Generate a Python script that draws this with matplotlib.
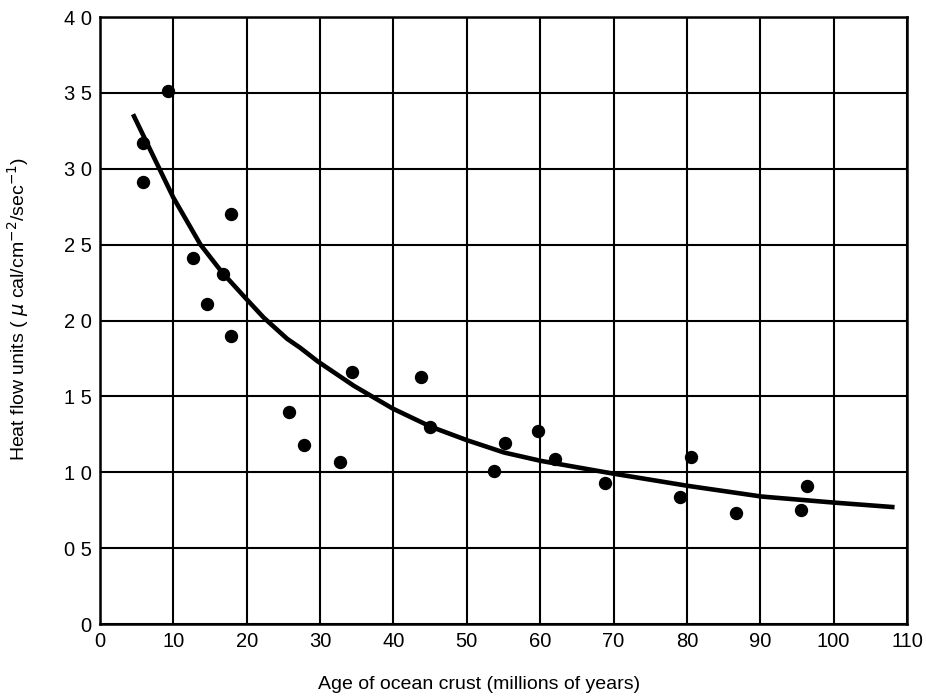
import matplotlib
matplotlib.use("Agg")
import matplotlib.pyplot as plt

plt.rcParams['font.family'] = ['Liberation Sans', 'DejaVu Sans']

# measured heat flow points (age in My, heat flow units)
age = [5.9, 5.9, 9.2, 12.7, 14.6, 16.8, 17.8, 17.9, 25.8, 27.8, 32.7, 34.4,
       43.8, 45.0, 53.7, 55.2, 59.7, 62.0, 68.9, 79.0, 80.5, 86.7, 95.6, 96.4]
flow = [3.17, 2.91, 3.51, 2.41, 2.11, 2.31, 2.70, 1.90, 1.40, 1.18, 1.07, 1.66,
        1.63, 1.30, 1.01, 1.19, 1.27, 1.09, 0.93, 0.84, 1.10, 0.73, 0.75, 0.91]

# fitted curve
curve_x = [4.5, 7.3, 10.0, 13.7, 16.6, 19.8, 22.3, 25.5, 27.3, 29.7, 34.6, 39.9,
           45.1, 50.1, 55.1, 60.1, 70.1, 80.2, 90.2, 100.1, 108.3]
curve_y = [3.36, 3.08, 2.81, 2.50, 2.32, 2.15, 2.02, 1.88, 1.82, 1.73, 1.57, 1.42,
           1.30, 1.21, 1.13, 1.075, 0.99, 0.91, 0.84, 0.80, 0.77]

xticks = list(range(0, 111, 10))
yticks = [0, 0.5, 1.0, 1.5, 2.0, 2.5, 3.0, 3.5, 4.0]
ylabels = ['0', '0 5', '1 0', '1 5', '2 0', '2 5', '3 0', '3 5', '4 0']

fig = plt.figure(figsize=(9.26, 6.98), dpi=100)
ax = fig.add_axes([0.108, 0.106, 0.8715, 0.8695])

ax.plot(curve_x, curve_y, color='black', lw=3.3, solid_capstyle='butt',
        solid_joinstyle='round', zorder=3)
ax.plot(age, flow, 'o', color='black', markersize=8.6, zorder=4)

ax.set_xlim(0, 110)
ax.set_ylim(0, 4.0)
ax.set_xticks(xticks)
ax.set_yticks(yticks)
ax.set_yticklabels(ylabels)
ax.grid(True, color='black', lw=1.5)
ax.set_axisbelow(True)
for s in ax.spines.values():
    s.set_linewidth(1.8)
ax.tick_params(length=0, labelsize=14.5, pad=6)

ax.set_xlabel('Age of ocean crust (millions of years)', fontsize=14)
ax.set_ylabel('Heat flow units ( $\\mu$ cal/cm$^{-2}$/sec$^{-1}$)', fontsize=14)
ax.xaxis.set_label_coords(0.47, -0.085)
ax.yaxis.set_label_coords(-0.085, 0.52)

fig.savefig('out.png', dpi=100, facecolor='white')
